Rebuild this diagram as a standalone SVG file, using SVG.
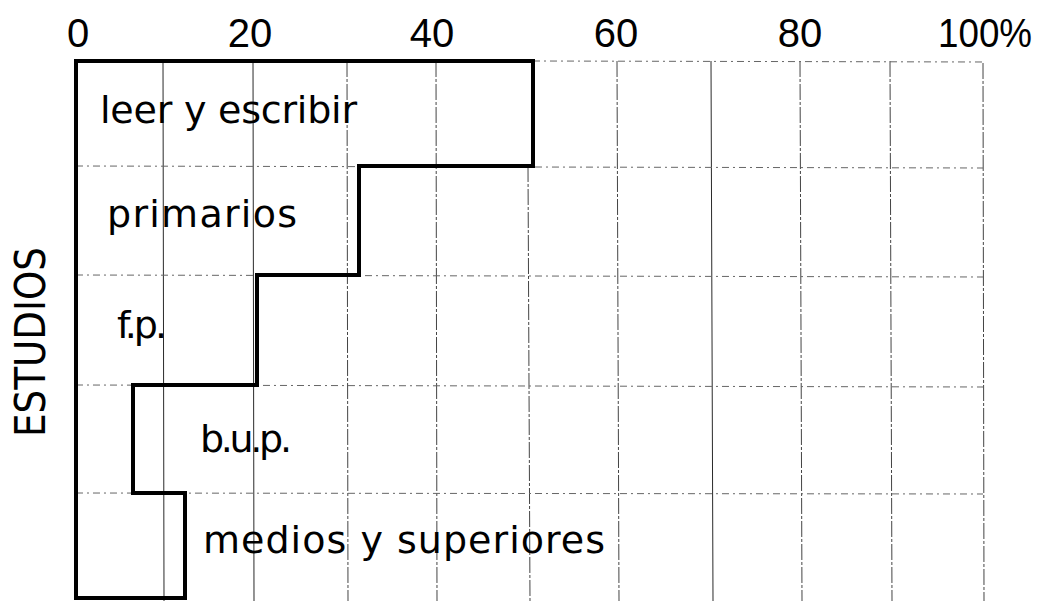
<svg xmlns="http://www.w3.org/2000/svg" width="1040" height="601" viewBox="0 0 1040 601">
<style>
.bg{fill:#ffffff}
.vg{stroke:#2a2a2a;stroke-width:1;fill:none}
.vg2{stroke:#444;stroke-width:1;fill:none;stroke-dasharray:16 2 3 2}
.hg{stroke:#666;stroke-width:1;fill:none;stroke-dasharray:7 4 2 4}
.bar{stroke:#000;stroke-width:4;fill:none;stroke-linejoin:miter}
.t{font-family:"DejaVu Sans","Liberation Sans",sans-serif;fill:#000}
.tick{font-family:"Liberation Sans","DejaVu Sans",sans-serif;font-size:40px;text-anchor:middle}
.lab{font-size:38px}
</style>
<rect class="bg" x="0" y="0" width="1040" height="601"/>
<g id="grid">
<line class="vg" x1="163" y1="61" x2="164" y2="601"/>
<line class="vg" x1="253" y1="61" x2="254" y2="601"/>
<line class="vg2" x1="347" y1="61" x2="348" y2="601"/>
<line class="vg2" x1="436" y1="61" x2="437" y2="601"/>
<line class="vg2" x1="528" y1="166" x2="530" y2="601"/>
<line class="vg2" x1="617" y1="61" x2="619" y2="601"/>
<line class="vg" x1="711" y1="61" x2="713" y2="601"/>
<line class="vg2" x1="800" y1="61" x2="802" y2="601"/>
<line class="vg2" x1="890" y1="61" x2="892" y2="601"/>
<line class="vg2" x1="983" y1="63" x2="984" y2="601"/>
<line class="hg" x1="533" y1="61" x2="983" y2="62"/>
<line class="hg" x1="76" y1="166" x2="983" y2="168"/>
<line class="hg" x1="76" y1="275" x2="983" y2="277"/>
<line class="hg" x1="76" y1="385" x2="983" y2="387"/>
<line class="hg" x1="76" y1="493" x2="983" y2="494"/>
</g>
<g id="bars">
<path class="bar" d="M76,61 H533 V166 H359 V275 H257 V385 H133 V493 H185 V598 H76 Z"/>
</g>
<g id="axis-labels">
<text class="t tick" x="78" y="47">0</text>
<text class="t tick" x="250" y="47">20</text>
<text class="t tick" x="432" y="47">40</text>
<text class="t tick" x="616" y="47">60</text>
<text class="t tick" x="800" y="47">80</text>
<text class="t tick" x="938" y="47" style="text-anchor:start" textLength="94" lengthAdjust="spacingAndGlyphs">100%</text>
<text class="t" font-size="42" transform="translate(45,437) rotate(-90)" textLength="190" lengthAdjust="spacingAndGlyphs">ESTUDIOS</text>
</g>
<g id="labels">
<text class="t lab" x="100" y="123" textLength="257" lengthAdjust="spacing">leer y escribir</text>
<text class="t lab" x="107" y="227" font-size="40" textLength="190" lengthAdjust="spacing">primarios</text>
<text class="t lab" x="117" y="338" textLength="50" lengthAdjust="spacing">f.p.</text>
<text class="t lab" x="200" y="452" textLength="92" lengthAdjust="spacing">b.u.p.</text>
<text class="t lab" x="203" y="553" textLength="402" lengthAdjust="spacing">medios y superiores</text>
</g>
</svg>
